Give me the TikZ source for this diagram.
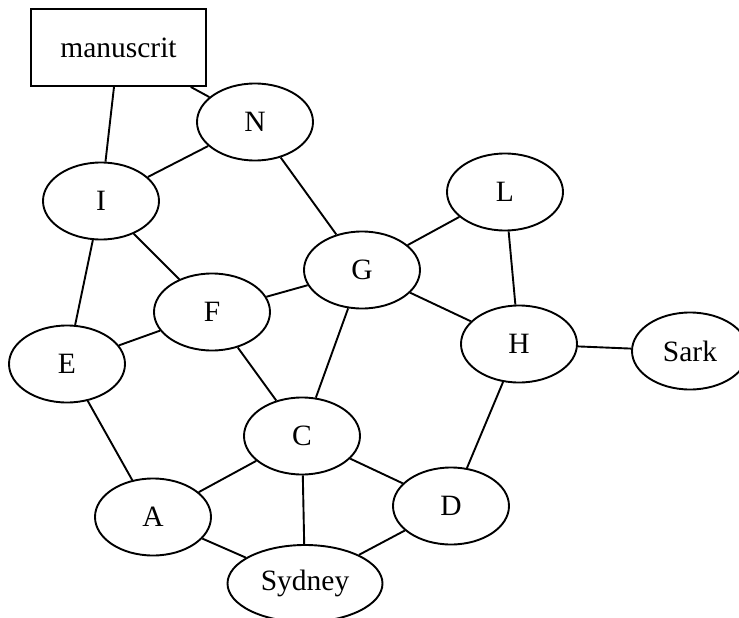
\documentclass[tikz,border=0pt]{standalone}
\usepackage{fontspec}
\setmainfont{Liberation Serif}
\usetikzlibrary{shapes.geometric}
\begin{document}
\begin{tikzpicture}[x=1pt,y=-1pt,
  every node/.style={font=\fontsize{29.5}{34}\selectfont, line width=1.9pt, draw=black, inner sep=0pt},
  ell/.style={ellipse, minimum width=116pt, minimum height=77pt},
  box/.style={rectangle, minimum width=175pt, minimum height=77pt},
  edge/.style={line width=1.9pt, black}]
\useasboundingbox (0,0) rectangle (739,618);
\clip (0,0) rectangle (739,618);
\node[box] (man) at (118.5,47.5) {manuscrit};
\node[ell] (N) at (255,122) {N};
\node[ell] (I) at (101,201) {I};
\node[ell] (L) at (505,192) {L};
\node[ell] (G) at (362,270) {G};
\node[ell] (F) at (212,312) {F};
\node[ell] (H) at (519,344) {H};
\node[ell] (Sark) at (690,351) {Sark};
\node[ell] (E) at (67,364) {E};
\node[ell] (C) at (302,436) {C};
\node[ell] (D) at (451,506) {D};
\node[ell] (A) at (153,517) {A};
\node[ell, minimum width=155pt] (Syd) at (305,583.5) {Sydney};
\draw[edge] (man) -- (I);
\draw[edge] (man) -- (N);
\draw[edge] (N) -- (I);
\draw[edge] (N) -- (G);
\draw[edge] (I) -- (F);
\draw[edge] (I) -- (E);
\draw[edge] (F) -- (E);
\draw[edge] (F) -- (G);
\draw[edge] (F) -- (C);
\draw[edge] (G) -- (L);
\draw[edge] (G) -- (H);
\draw[edge] (G) -- (C);
\draw[edge] (L) -- (H);
\draw[edge] (H) -- (Sark);
\draw[edge] (H) -- (D);
\draw[edge] (C) -- (A);
\draw[edge] (C) -- (D);
\draw[edge] (C) -- (Syd);
\draw[edge] (E) -- (A);
\draw[edge] (A) -- (Syd);
\draw[edge] (D) -- (Syd);
\end{tikzpicture}
\end{document}
